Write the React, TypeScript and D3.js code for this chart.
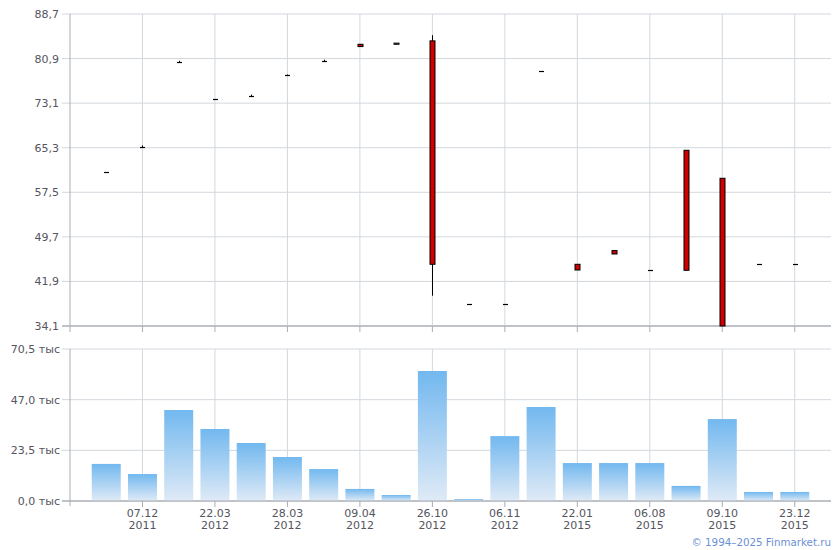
import React from "react";
import * as d3 from "d3";

const tickIdx = [1, 3, 5, 7, 9, 11, 13, 15, 17, 19];
const tickDates = ["07.12", "22.03", "28.03", "09.04", "26.10", "06.11", "22.01", "06.08", "09.10", "23.12"];
const tickYears = ["2011", "2012", "2012", "2012", "2012", "2012", "2015", "2015", "2015", "2015"];

const opens = [61.0, 65.5, 80.3, 73.9, 74.4, 78.1, 80.5, 83.4, 83.4, 84.0, 37.9, 37.9, 78.8, 44.9, 47.3, 43.85, 64.85, 59.95, 44.9, 44.9];
const highs = [61.0, 65.7, 80.5, 73.9, 74.6, 78.1, 80.7, 83.4, 83.6, 85.0, 37.9, 37.9, 78.8, 44.9, 47.3, 43.85, 64.85, 59.95, 44.9, 44.9];
const lows = [61.0, 65.4, 80.2, 73.9, 74.3, 78.0, 80.4, 83.0, 83.4, 39.4, 37.9, 37.9, 78.8, 43.9, 46.7, 43.85, 43.85, 34.1, 44.9, 44.9];
const closes = [61.0, 65.5, 80.3, 73.9, 74.4, 78.1, 80.5, 83.0, 83.6, 44.9, 37.9, 37.9, 78.8, 43.9, 46.7, 43.85, 43.85, 34.1, 44.9, 44.9];

const volumes = [17.2, 12.5, 42.2, 33.4, 26.9, 20.4, 14.8, 5.6, 2.8, 60.3, 0.9, 30.1, 43.6, 17.6, 17.6, 17.6, 7.0, 38.0, 4.2, 4.2];

const priceTicks = [34.1, 41.9, 49.7, 57.5, 65.3, 73.1, 80.9, 88.7];
const volTicks = [0, 23.5, 47.0, 70.5];

const W = 840;
const H = 550;
const L = 70;
const R = 831;

const fmt = (v: number) => v.toFixed(1).replace(".", ",");

export default function App() {
  const x = d3.scaleLinear().domain([-1, 20]).range([L, R]);
  const yP = d3.scaleLinear().domain([34.1, 88.7]).range([326, 14]);
  const yV = d3.scaleLinear().domain([0, 70.5]).range([501, 349]);
  const step = x(1) - x(0);
  const bw = step * 0.8;
  const cw = 5;
  const grid = "#d3d8dd";
  const axis = "#a9adb3";
  const txt = "#555560";
  const font = "DejaVu Sans, Verdana, sans-serif";

  return (
    <svg width={W} height={H} style={{ position: "absolute", left: 0, top: 0, background: "#fff" }} fontFamily={font}>
      <defs>
        <linearGradient id="vg" x1="0" y1="0" x2="0" y2="1">
          <stop offset="0%" stopColor="#72b8ef" />
          <stop offset="100%" stopColor="#dfeaf6" />
        </linearGradient>
      </defs>

      {/* price panel grid */}
      {priceTicks.map((t) => (
        <g key={"pg" + t}>
          <line x1={62} x2={R} y1={yP(t)} y2={yP(t)} stroke={t === 34.1 ? axis : grid} strokeWidth={1} />
          <text x={59} y={yP(t) + 4} textAnchor="end" fontSize={11} fill={txt}>{fmt(t)}</text>
        </g>
      ))}
      {tickIdx.map((i) => (
        <line key={"pv" + i} x1={x(i)} x2={x(i)} y1={14} y2={326} stroke={grid} />
      ))}
      {tickIdx.map((i) => (
        <line key={"pt" + i} x1={x(i)} x2={x(i)} y1={326} y2={332} stroke={axis} />
      ))}
      <line x1={L} x2={L} y1={14} y2={332} stroke={axis} />
      <line x1={62} x2={R} y1={326} y2={326} stroke={axis} />

      {/* candles */}
      {opens.map((o, i) => {
        const c = closes[i];
        const hi = highs[i];
        const lo = lows[i];
        const cx = Math.round(x(i)) + 0.5;
        const top = yP(Math.max(o, c));
        const bot = yP(Math.min(o, c));
        const flat = Math.abs(bot - top) < 0.6;
        return (
          <g key={"c" + i}>
            {hi > lo && <line x1={cx} x2={cx} y1={yP(hi)} y2={yP(lo)} stroke="#000" />}
            {flat ? (
              <line x1={cx - cw / 2} x2={cx + cw / 2} y1={Math.round(top) + 0.5} y2={Math.round(top) + 0.5} stroke="#000" strokeWidth={1.2} />
            ) : (
              <rect x={cx - cw / 2} y={top} width={cw} height={bot - top} fill={o > c ? "#d00000" : "#ffffff"} stroke="#000" strokeWidth={1} />
            )}
          </g>
        );
      })}

      {/* volume panel */}
      {volTicks.map((t) => (
        <g key={"vg" + t}>
          <line x1={62} x2={R} y1={yV(t)} y2={yV(t)} stroke={t === 0 ? axis : grid} />
          <text x={60} y={yV(t) + 4} textAnchor="end" fontSize={11} fill={txt}>{fmt(t) + " тыс"}</text>
        </g>
      ))}
      {tickIdx.map((i) => (
        <line key={"vv" + i} x1={x(i)} x2={x(i)} y1={349} y2={501} stroke={grid} />
      ))}
      {volumes.map((v, i) => (
        <rect key={"b" + i} x={x(i) - bw / 2} y={yV(v)} width={bw} height={yV(0) - yV(v)} fill="url(#vg)" />
      ))}
      <line x1={62} x2={R} y1={501} y2={501} stroke={axis} />
      <line x1={L} x2={L} y1={349} y2={506} stroke={axis} />
      {tickIdx.map((i, k) => (
        <g key={"vt" + i}>
          <line x1={x(i)} x2={x(i)} y1={501} y2={507} stroke={axis} />
          <text x={x(i)} y={517} textAnchor="middle" fontSize={11} fill={txt}>{tickDates[k]}</text>
          <text x={x(i)} y={529} textAnchor="middle" fontSize={11} fill={txt}>{tickYears[k]}</text>
        </g>
      ))}

      <text x={R} y={546} textAnchor="end" fontSize={10.3} fill="#6b8fd4">© 1994–2025 Finmarket.ru</text>
    </svg>
  );
}
